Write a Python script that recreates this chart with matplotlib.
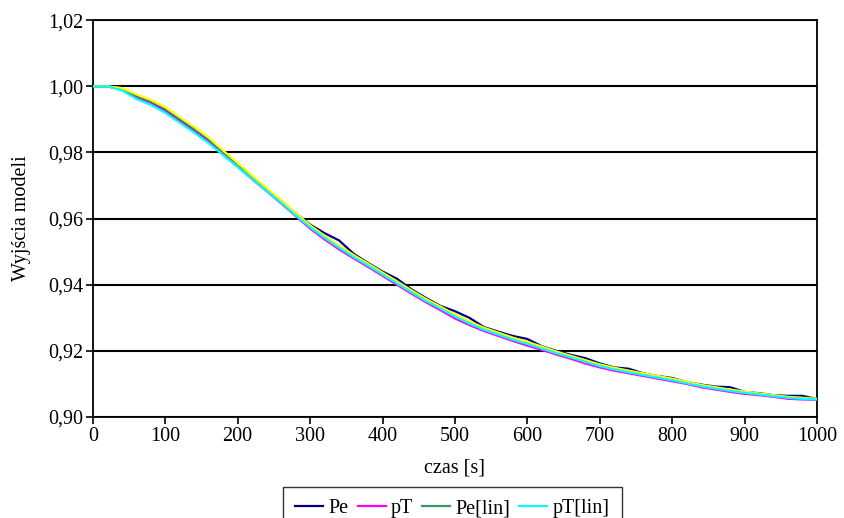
import matplotlib
matplotlib.use("Agg")
import matplotlib.pyplot as plt
from matplotlib.ticker import FuncFormatter

plt.rcParams['font.family'] = ['Liberation Serif', 'DejaVu Serif']

# czas [s]
t = [0, 20, 40, 60, 80, 100, 120, 140, 160, 180, 200, 220, 240, 260, 280, 300,
     320, 340, 360, 380, 400, 420, 440, 460, 480, 500, 520, 540, 560, 580, 600,
     620, 640, 660, 680, 700, 720, 740, 760, 780, 800, 820, 840, 860, 880, 900,
     920, 940, 960, 980, 1000]

pe = [1.0000, 1.0000, 0.9992, 0.9970, 0.9952, 0.9928, 0.9898, 0.9868, 0.9837, 0.9800,
      0.9763, 0.9726, 0.9690, 0.9654, 0.9616, 0.9582, 0.9556, 0.9534, 0.9494, 0.9466,
      0.9440, 0.9418, 0.9386, 0.9360, 0.9336, 0.9320, 0.9300, 0.9272, 0.9258, 0.9245,
      0.9236, 0.9214, 0.9200, 0.9188, 0.9178, 0.9162, 0.9150, 0.9146, 0.9132, 0.9124,
      0.9118, 0.9106, 0.9098, 0.9092, 0.9090, 0.9076, 0.9072, 0.9066, 0.9064, 0.9064,
      0.9054]

pt = [1.0000, 1.0000, 0.9990, 0.9966, 0.9948, 0.9924, 0.9894, 0.9864, 0.9832, 0.9794,
      0.9757, 0.9719, 0.9683, 0.9646, 0.9608, 0.9570, 0.9537, 0.9507, 0.9480, 0.9454,
      0.9427, 0.9400, 0.9373, 0.9347, 0.9323, 0.9298, 0.9278, 0.9260, 0.9245, 0.9230,
      0.9216, 0.9203, 0.9189, 0.9176, 0.9162, 0.9150, 0.9140, 0.9132, 0.9124, 0.9116,
      0.9108, 0.9100, 0.9090, 0.9083, 0.9076, 0.9070, 0.9066, 0.9061, 0.9055, 0.9053,
      0.9052]

pe_lin = [1.0000, 1.0000, 0.9994, 0.9972, 0.9955, 0.9932, 0.9902, 0.9872, 0.9840, 0.9802,
          0.9765, 0.9727, 0.9690, 0.9653, 0.9614, 0.9578, 0.9546, 0.9516, 0.9488, 0.9462,
          0.9435, 0.9408, 0.9381, 0.9355, 0.9332, 0.9308, 0.9287, 0.9268, 0.9253, 0.9238,
          0.9225, 0.9211, 0.9196, 0.9183, 0.9170, 0.9157, 0.9147, 0.9138, 0.9130, 0.9122,
          0.9114, 0.9105, 0.9095, 0.9088, 0.9081, 0.9075, 0.9070, 0.9065, 0.9060, 0.9057,
          0.9054]

pt_lin = [1.0000, 1.0000, 0.9988, 0.9962, 0.9944, 0.9920, 0.9890, 0.9860, 0.9828, 0.9792,
          0.9756, 0.9720, 0.9684, 0.9648, 0.9610, 0.9574, 0.9542, 0.9512, 0.9484, 0.9458,
          0.9431, 0.9404, 0.9377, 0.9351, 0.9328, 0.9304, 0.9283, 0.9264, 0.9249, 0.9234,
          0.9221, 0.9207, 0.9193, 0.9180, 0.9167, 0.9154, 0.9144, 0.9135, 0.9127, 0.9119,
          0.9111, 0.9102, 0.9093, 0.9086, 0.9079, 0.9073, 0.9068, 0.9063, 0.9058, 0.9055,
          0.9053]

# piata seria (zolta), bez widocznego opisu w legendzie
yel = [1.0000, 1.0000, 0.9995, 0.9976, 0.9959, 0.9937, 0.9907, 0.9877, 0.9845, 0.9806,
       0.9768, 0.9730, 0.9693, 0.9656, 0.9617, 0.9580, 0.9548, 0.9518, 0.9490, 0.9464,
       0.9437, 0.9410, 0.9383, 0.9357, 0.9334, 0.9310, 0.9289, 0.9270, 0.9255, 0.9240,
       0.9227, 0.9213, 0.9198, 0.9185, 0.9172, 0.9159, 0.9149, 0.9140, 0.9132, 0.9124,
       0.9116, 0.9107, 0.9097, 0.9090, 0.9083, 0.9077, 0.9071, 0.9066, 0.9061, 0.9058,
       0.9055]

yticks = [0.90, 0.92, 0.94, 0.96, 0.98, 1.00, 1.02]
xticks = [0, 100, 200, 300, 400, 500, 600, 700, 800, 900, 1000]

fs = 14.5

fig = plt.figure(figsize=(8.44, 5.18), dpi=100)
ax = fig.add_axes([0.110, 0.195, 0.858, 0.766])

lw = 1.6
ax.plot(t, pe, color='#000080', lw=lw, label='Pe', zorder=3)
ax.plot(t, pt, color='#ff00ff', lw=lw, label='pT', zorder=3)
ax.plot(t, pe_lin, color='#339966', lw=lw, label='Pe[lin]', zorder=3)
ax.plot(t, pt_lin, color='#00ffff', lw=lw, label='pT[lin]', zorder=4)
ax.plot(t, yel, color='#ffff00', lw=lw, zorder=3.5)

ax.set_xlim(0, 1000)
ax.set_ylim(0.90, 1.02)
ax.set_xticks(xticks)
ax.set_yticks(yticks)
ax.yaxis.set_major_formatter(FuncFormatter(lambda v, p: ('%.2f' % v).replace('.', ',')))
ax.grid(axis='y', color='black', lw=1.5, zorder=1)
for s in ax.spines.values():
    s.set_color('black')
    s.set_linewidth(1.3)
ax.tick_params(direction='out', length=5, width=1.2, labelsize=fs, colors='black', pad=2)

ax.set_xlabel('czas [s]', fontsize=fs, labelpad=9)
ax.set_ylabel('Wyjścia modeli', fontsize=fs, labelpad=12)

leg = fig.legend(loc='upper left', bbox_to_anchor=(283 / 844, 1 - 487 / 518), ncol=4,
                 fontsize=fs, frameon=True, fancybox=False, edgecolor='black',
                 borderpad=0.6, handlelength=1.4, handletextpad=0.25, columnspacing=0.45,
                 borderaxespad=0)
leg.get_frame().set_linewidth(1.0)

fig.savefig('out.png', dpi=100)
